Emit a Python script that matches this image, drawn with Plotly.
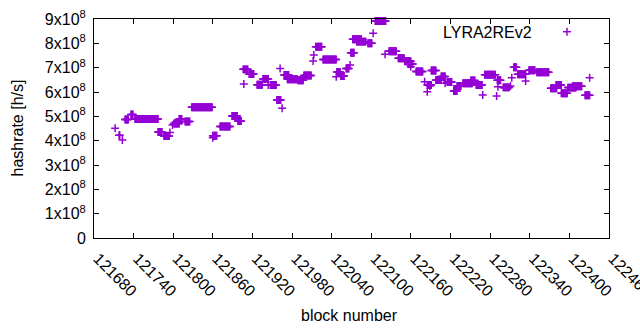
import plotly.graph_objects as go

# Readings from the picture: runs of consecutive blocks sharing one hashrate
# (a run with first == last is a single block)
seg_first = [121712, 121718, 121723, 121727, 121736, 121742, 121777, 121786, 121795, 121799,
             121801, 121809, 121818, 121828, 121860, 121860, 121871, 121889, 121898, 121907,
             121906, 121915, 121927, 121936, 121944, 121947, 121962, 121968, 121965, 121957,
             121973, 121989, 121998, 122012, 122013, 122016, 122027, 122047, 122048, 122054,
             122062, 122068, 122069, 122072, 122078, 122095, 122103, 122106, 122121, 122127,
             122141, 122151, 122156, 122160, 122168, 122181, 122185, 122185, 122191, 122189,
             122198, 122206, 122212, 122215, 122225, 122230, 122239, 122251, 122259, 122269,
             122272, 122290, 122291, 122292, 122300, 122313, 122316, 122311, 122322, 122334,
             122339, 122351, 122372, 122380, 122388, 122398, 122405, 122424, 122431]
seg_last = [121712, 121719, 121723, 121732, 121739, 121777, 121783, 121794, 121795, 121799,
            121809, 121813, 121825, 121859, 121860, 121866, 121886, 121897, 121903, 121907,
            121913, 121922, 121935, 121944, 121944, 121956, 121962, 121975, 121965, 121963,
            121988, 121997, 122009, 122012, 122013, 122025, 122047, 122047, 122053, 122059,
            122066, 122068, 122074, 122085, 122092, 122101, 122103, 122122, 122121, 122138,
            122150, 122160, 122163, 122160, 122178, 122181, 122191, 122185, 122198, 122189,
            122206, 122212, 122212, 122222, 122230, 122236, 122253, 122257, 122268, 122269,
            122288, 122290, 122296, 122292, 122309, 122313, 122320, 122311, 122334, 122334,
            122348, 122369, 122381, 122388, 122397, 122410, 122419, 122431, 122431]
seg_rate = [4.51e8, 4.22e8, 4.03e8, 4.87e8, 5.08e8, 4.89e8, 4.36e8, 4.19e8, 4.34e8, 4.64e8,
            4.71e8, 4.89e8, 4.79e8, 5.37e8, 4.12e8, 4.20e8, 4.58e8, 5.01e8, 4.81e8, 6.33e8,
            6.93e8, 6.74e8, 6.30e8, 6.53e8, 6.29e8, 6.29e8, 6.97e8, 6.70e8, 5.33e8, 5.67e8,
            6.52e8, 6.48e8, 6.68e8, 7.27e8, 7.52e8, 7.86e8, 7.34e8, 6.63e8, 6.82e8, 6.66e8,
            6.97e8, 7.11e8, 7.61e8, 8.17e8, 8.07e8, 8.00e8, 8.41e8, 8.92e8, 7.55e8, 7.67e8,
            7.39e8, 7.26e8, 7.15e8, 7.04e8, 6.84e8, 6.42e8, 6.29e8, 6.01e8, 6.88e8, 6.25e8,
            6.49e8, 6.64e8, 6.36e8, 6.41e8, 6.04e8, 6.25e8, 6.36e8, 6.47e8, 6.29e8, 5.88e8,
            6.71e8, 5.84e8, 6.48e8, 6.22e8, 6.19e8, 6.59e8, 7.02e8, 6.25e8, 6.73e8, 6.45e8,
            6.89e8, 6.81e8, 6.15e8, 6.29e8, 5.95e8, 6.18e8, 6.24e8, 5.87e8, 6.59e8]

series_name = "LYRA2REv2"
y_tickvals = [0, 1e8, 2e8, 3e8, 4e8, 5e8, 6e8, 7e8, 8e8, 9e8]
y_ticktext = ["0", "1x10<sup>8</sup>", "2x10<sup>8</sup>", "3x10<sup>8</sup>", "4x10<sup>8</sup>",
              "5x10<sup>8</sup>", "6x10<sup>8</sup>", "7x10<sup>8</sup>", "8x10<sup>8</sup>",
              "9x10<sup>8</sup>"]
x_first_tick = 121680
x_tick_step = 60
x_range = [121680, 122460.3]
y_range = [0, 9e8]

blocks, rates = [], []
for f, l, r in zip(seg_first, seg_last, seg_rate):
    for b in range(f, l + 1):
        blocks.append(b)
        rates.append(r)

color = "#9400d3"
font = dict(family="Liberation Sans", size=16, color="black")
fig = go.Figure(go.Scatter(
    x=blocks, y=rates, mode="markers", name=series_name, showlegend=False,
    cliponaxis=False,
    marker=dict(symbol="cross-thin-open", size=5.7, color=color,
                line=dict(width=1.5, color=color)),
))

axis_common = dict(showline=True, linecolor="black", linewidth=1, mirror="ticks",
                   ticks="inside", ticklen=5, tickcolor="black", showgrid=False,
                   zeroline=False, automargin=False, tickfont=font)
fig.update_layout(
    width=640, height=330,
    margin=dict(l=94, r=31, t=19, b=92),
    paper_bgcolor="white", plot_bgcolor="white",
    font=font,
    xaxis=dict(range=x_range, tick0=x_first_tick, dtick=x_tick_step, tickangle=45,
               tickformat="d", ticklabelstandoff=4, ticklabelshift=4,
               ticklabeloverflow="allow", **axis_common),
    yaxis=dict(range=y_range, tickvals=y_tickvals, ticktext=y_ticktext,
               ticklabelstandoff=4, **axis_common),
)

# axis titles
fig.add_annotation(text="block number", xref="paper", yref="paper", x=0.497, y=-0.352,
                   showarrow=False, xanchor="center", yanchor="middle", font=font)
fig.add_annotation(text="hashrate [h/s]", xref="paper", yref="paper", x=-0.1495, y=0.5,
                   showarrow=False, textangle=-90, xanchor="center", yanchor="middle",
                   font=font)

# key (text, then sample on its right, as in the original)
fig.add_annotation(text=series_name, xref="paper", yref="paper", x=0.8544, y=0.9406,
                   showarrow=False, xanchor="right", yanchor="middle", font=font)
kx, ky, hx, hy = 0.9184, 0.942, 0.0078, 0.0183
fig.add_shape(type="line", xref="paper", yref="paper", x0=kx - hx, x1=kx + hx, y0=ky, y1=ky,
              line=dict(color=color, width=1.5))
fig.add_shape(type="line", xref="paper", yref="paper", x0=kx, x1=kx, y0=ky - hy, y1=ky + hy,
              line=dict(color=color, width=1.5))

fig.write_html("out.html", config={"displayModeBar": False},
               post_script="document.body.style.margin='0';")
